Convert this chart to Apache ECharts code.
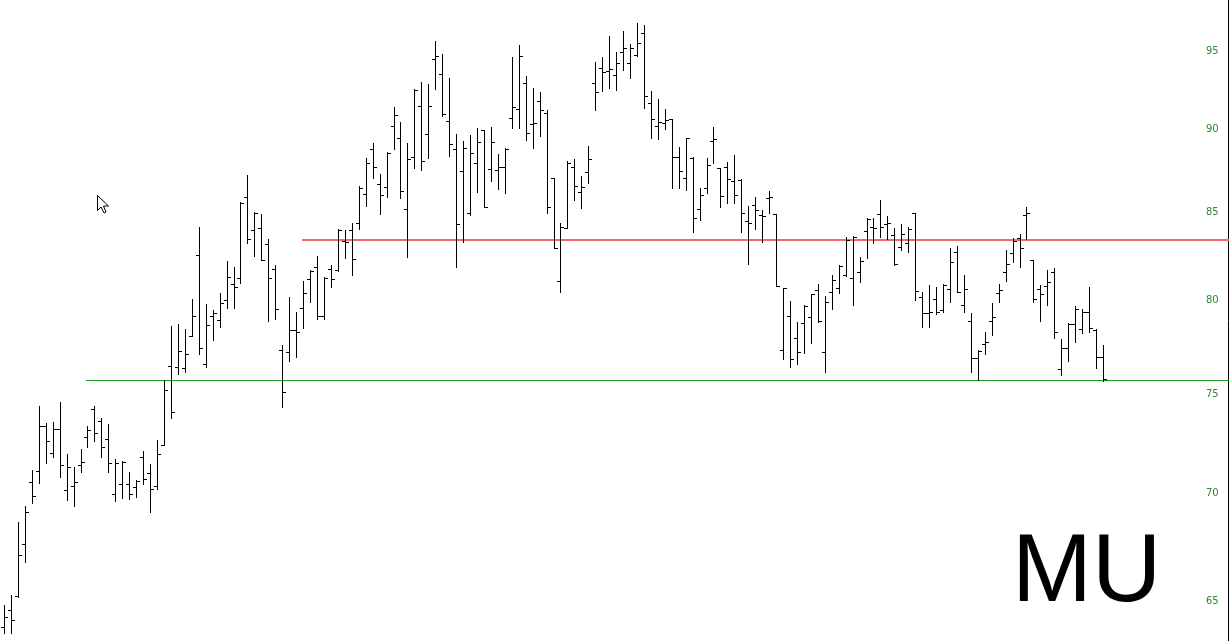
<!DOCTYPE html>
<html>
<head>
<meta charset="utf-8">
<script src="https://cdn.jsdelivr.net/npm/echarts@6/dist/echarts.min.js"></script>
<style>
html,body{margin:0;padding:0;background:#ffffff;}
#c{width:1229px;height:641px;}
</style>
</head>
<body>
<div id="c"></div>
<script>
// ---- data (daily OHLC bars, oldest first) ----
const opens = [63.81,64.55,65.19,67.57,70.52,71.06,73.29,71.95,73.12,70.11,70.33,71.34,72.75,74.14,73.54,72.65,69.95,70.40,70.41,70.25,
71.74,70.96,70.33,72.34,76.40,76.35,76.28,77.98,82.45,76.49,79.09,78.87,79.95,80.82,81.18,85.83,83.90,84.00,83.10,81.69,
77.25,77.13,78.29,79.52,81.13,81.77,79.09,81.67,81.62,83.27,83.90,84.30,86.00,88.73,86.59,86.41,90.15,89.42,85.14,88.22,
91.40,89.63,94.39,93.44,90.44,88.71,87.41,84.91,87.89,89.90,87.49,87.47,87.65,90.63,91.19,92.84,90.27,91.71,90.98,86.95,
81.02,84.04,87.61,86.15,87.35,92.86,93.81,93.63,93.38,94.85,94.17,94.67,96.12,91.57,90.15,90.31,90.56,88.26,86.95,88.16,
85.11,86.35,89.24,87.55,87.65,86.81,86.85,84.44,85.38,84.78,85.80,84.83,77.23,79.07,77.89,78.70,79.03,80.50,77.14,80.41,
80.63,81.33,81.15,81.52,83.85,84.10,84.82,84.25,83.61,82.90,83.14,84.88,80.13,79.25,80.00,79.40,80.54,82.66,79.67,78.80,
76.79,77.55,78.80,80.35,81.49,82.56,83.42,84.78,82.18,80.54,80.74,81.52,76.21,77.35,78.66,78.35,79.27,78.31,76.88];
const highs = [64.77,65.22,68.60,69.35,71.10,74.31,73.42,73.47,74.53,71.87,71.26,72.12,73.30,74.31,73.67,73.37,71.62,71.54,70.98,70.61,
72.03,71.38,72.58,75.65,78.54,78.61,78.35,80.00,84.06,79.71,79.40,80.32,82.14,81.77,85.56,87.15,84.97,84.82,83.37,81.90,
77.50,80.13,79.27,81.00,81.62,82.41,81.24,81.90,83.94,83.90,84.33,86.51,88.16,89.11,87.19,88.56,91.36,90.38,89.07,92.46,
92.94,92.80,95.59,94.72,93.16,89.63,89.22,89.59,90.05,89.90,90.07,88.42,88.77,94.56,95.33,93.31,92.52,92.27,91.15,86.98,
84.30,87.99,88.12,87.09,88.93,94.24,94.52,95.94,94.89,96.25,95.39,96.77,96.65,92.35,91.84,91.19,90.56,88.83,89.42,88.22,
86.35,88.16,90.10,87.59,87.95,88.37,86.89,85.30,85.81,85.07,86.21,84.85,80.63,79.89,78.76,79.67,80.28,80.83,80.17,81.33,
81.88,83.48,83.57,82.33,84.62,84.62,85.66,84.69,84.00,84.23,84.10,84.90,80.41,80.78,80.69,80.82,82.85,83.00,81.33,79.21,
77.23,78.18,79.80,80.82,82.75,83.46,83.65,85.26,82.20,80.78,81.62,81.71,77.82,78.68,79.63,79.45,80.69,78.37,77.50];
const lows = [63.51,63.54,65.14,66.74,69.51,70.48,71.43,71.75,70.74,69.64,69.35,70.98,72.25,72.55,71.75,71.01,69.61,69.72,69.70,69.77,
70.43,69.08,70.16,72.33,73.67,75.97,76.06,77.98,77.00,76.35,77.77,78.49,79.49,79.49,80.91,83.14,82.43,82.18,78.80,78.90,
74.27,76.65,76.88,78.40,79.82,78.89,78.90,80.65,81.56,82.31,81.33,83.94,85.32,86.95,84.82,85.85,88.71,85.79,82.33,87.59,
87.45,88.16,92.46,90.77,88.30,81.77,83.20,84.78,86.15,85.22,86.79,86.31,86.06,90.00,90.00,89.28,88.77,89.55,84.88,82.85,
80.41,84.02,85.66,85.16,86.65,91.15,92.35,92.52,92.41,93.70,93.16,94.61,91.30,89.38,89.34,89.96,86.39,86.39,86.25,83.80,
84.48,86.06,87.89,85.22,85.47,85.47,83.77,81.96,83.94,83.20,84.88,80.72,76.74,76.35,76.49,77.06,77.62,78.76,76.09,79.45,
80.35,81.28,79.67,80.93,82.30,83.14,83.52,83.37,81.90,82.75,82.66,79.95,78.49,78.46,79.18,79.27,79.85,80.39,79.30,76.09,
75.65,77.00,78.04,79.82,81.00,82.08,81.77,83.37,79.85,78.80,79.67,77.86,75.91,76.67,77.64,78.13,78.22,76.26,75.61];
const closes = [64.22,64.09,67.06,69.08,69.84,73.29,72.55,73.14,71.36,71.23,70.51,71.49,73.09,72.92,72.22,71.43,71.43,71.49,69.92,70.57,
70.64,70.16,71.87,75.12,73.99,77.18,77.03,79.05,77.32,78.59,79.25,79.80,81.22,80.65,85.47,83.40,84.91,82.20,81.18,79.43,
75.04,78.29,78.18,80.35,81.58,79.07,81.18,81.13,83.90,83.23,82.26,86.39,87.89,87.63,85.94,88.46,90.83,86.19,88.10,92.41,
88.01,91.40,94.61,90.90,89.03,84.25,88.81,88.46,89.17,85.26,89.17,87.63,88.75,91.32,94.61,89.69,90.36,91.15,85.26,82.88,
84.06,87.89,86.49,86.45,88.10,92.27,93.59,93.74,94.13,95.15,95.11,95.44,92.03,90.56,90.42,90.54,88.26,87.41,89.38,84.62,
85.94,87.75,89.34,85.92,86.90,85.98,84.91,84.29,85.05,84.72,85.86,80.74,80.59,76.74,77.11,79.63,80.26,78.80,79.82,81.06,
81.86,83.33,83.52,82.14,84.56,84.04,84.06,84.29,81.94,83.65,83.94,80.45,79.25,79.30,79.30,80.78,82.08,80.41,80.56,76.83,
77.20,77.66,79.04,80.50,81.94,83.27,82.85,84.88,80.00,80.28,80.96,78.18,77.32,78.66,79.45,79.27,78.40,76.88,75.68];

const priceTicks = [65, 70, 75, 80, 85, 90, 95];
const resistanceLevel = 83.33;
const resistanceFromBar = 42.8;
const supportLevel = 75.65;
const supportFromBar = 11.8;
const tickerSymbol = 'MU';

// ---- chart ----
const X_MIN = -0.575, X_MAX = 175.97;
const Y_MIN = 63.18, Y_MAX = 98.34;

const ohlc = opens.map((o, i) => [i, o, highs[i], lows[i], closes[i]]);

const chart = echarts.init(document.getElementById('c'), null, {renderer: 'canvas'});

function renderBar(params, api) {
  const i = api.value(0);
  const pO = api.coord([i, api.value(1)]);
  const pH = api.coord([i, api.value(2)]);
  const pL = api.coord([i, api.value(3)]);
  const pC = api.coord([i, api.value(4)]);
  const x = Math.round(pH[0]) + 0.5;
  const yo = Math.round(pO[1]) + 0.5;
  const yc = Math.round(pC[1]) + 0.5;
  const st = {stroke: '#000000', lineWidth: 1};
  return {
    type: 'group',
    children: [
      {type: 'line', shape: {x1: x, y1: Math.round(pH[1]), x2: x, y2: Math.round(pL[1]) + 1}, style: st},
      {type: 'line', shape: {x1: x - 3.5, y1: yo, x2: x, y2: yo}, style: st},
      {type: 'line', shape: {x1: x, y1: yc, x2: x + 3.5, y2: yc}, style: st}
    ]
  };
}

// horizontal support / resistance levels drawn crisp through the axes
function renderLevel(color, width) {
  return function (params, api) {
    const p1 = api.coord([api.value(0), api.value(2)]);
    const p2 = api.coord([api.value(1), api.value(2)]);
    const y = Math.round(p1[1]) + (width % 2 ? 0.5 : 0);
    return {
      type: 'line',
      shape: {x1: Math.round(p1[0]), y1: y, x2: p2[0] + 2, y2: y},
      style: {stroke: color, lineWidth: width}
    };
  };
}

function renderTickLabel(params, api) {
  const p = api.coord([api.value(0), api.value(1)]);
  return {
    type: 'text',
    x: p[0] - 22,
    y: Math.round(p[1]) + 1.5,
    style: {
      text: String(api.value(1)),
      fill: '#2b8a2b',
      font: '10px "DejaVu Sans"',
      align: 'left',
      verticalAlign: 'middle',
      textAlign: 'left',
      textVerticalAlign: 'middle'
    }
  };
}

const option = {
  animation: false,
  backgroundColor: '#ffffff',
  grid: {left: 0, right: 1, top: 0, bottom: 0, containLabel: false},
  xAxis: {type: 'value', min: X_MIN, max: X_MAX, show: false},
  yAxis: {
    type: 'log', logBase: 10, min: Y_MIN, max: Y_MAX, position: 'right',
    axisLine: {show: true, onZero: false, lineStyle: {color: '#000000', width: 1}},
    axisTick: {show: false}, axisLabel: {show: false}, splitLine: {show: false}
  },
  graphic: [
    {
      type: 'text', x: 1012, y: 575,
      style: {text: tickerSymbol, font: '96px "Liberation Sans"', fill: '#000000', align: 'left', verticalAlign: 'middle'}
    },
    {
      type: 'polygon',
      shape: {points: [[97.5,195.5],[97.5,210.5],[101,207],[104,213],[106,212],[103.5,206],[108.5,206]]},
      style: {fill: '#ffffff', stroke: '#000000', lineWidth: 1}
    }
  ],
  series: [
    {
      type: 'custom', z: 1, silent: true, clip: false,
      renderItem: renderLevel('#1c9a1c', 1),
      data: [[supportFromBar, X_MAX, supportLevel]], encode: {x: [0, 1], y: 2}
    },
    {
      type: 'custom', z: 1, silent: true, clip: false,
      renderItem: renderLevel('#f26a6a', 2),
      data: [[resistanceFromBar, X_MAX, resistanceLevel]], encode: {x: [0, 1], y: 2}
    },
    {
      type: 'custom', z: 3, renderItem: renderBar,
      data: ohlc, encode: {x: 0, y: [1, 2, 3, 4]}, clip: false
    },
    {
      type: 'custom', z: 4, renderItem: renderTickLabel, silent: true,
      data: priceTicks.map(v => [X_MAX, v]), encode: {x: 0, y: 1}
    }
  ]
};
chart.setOption(option);
</script>
</body>
</html>
